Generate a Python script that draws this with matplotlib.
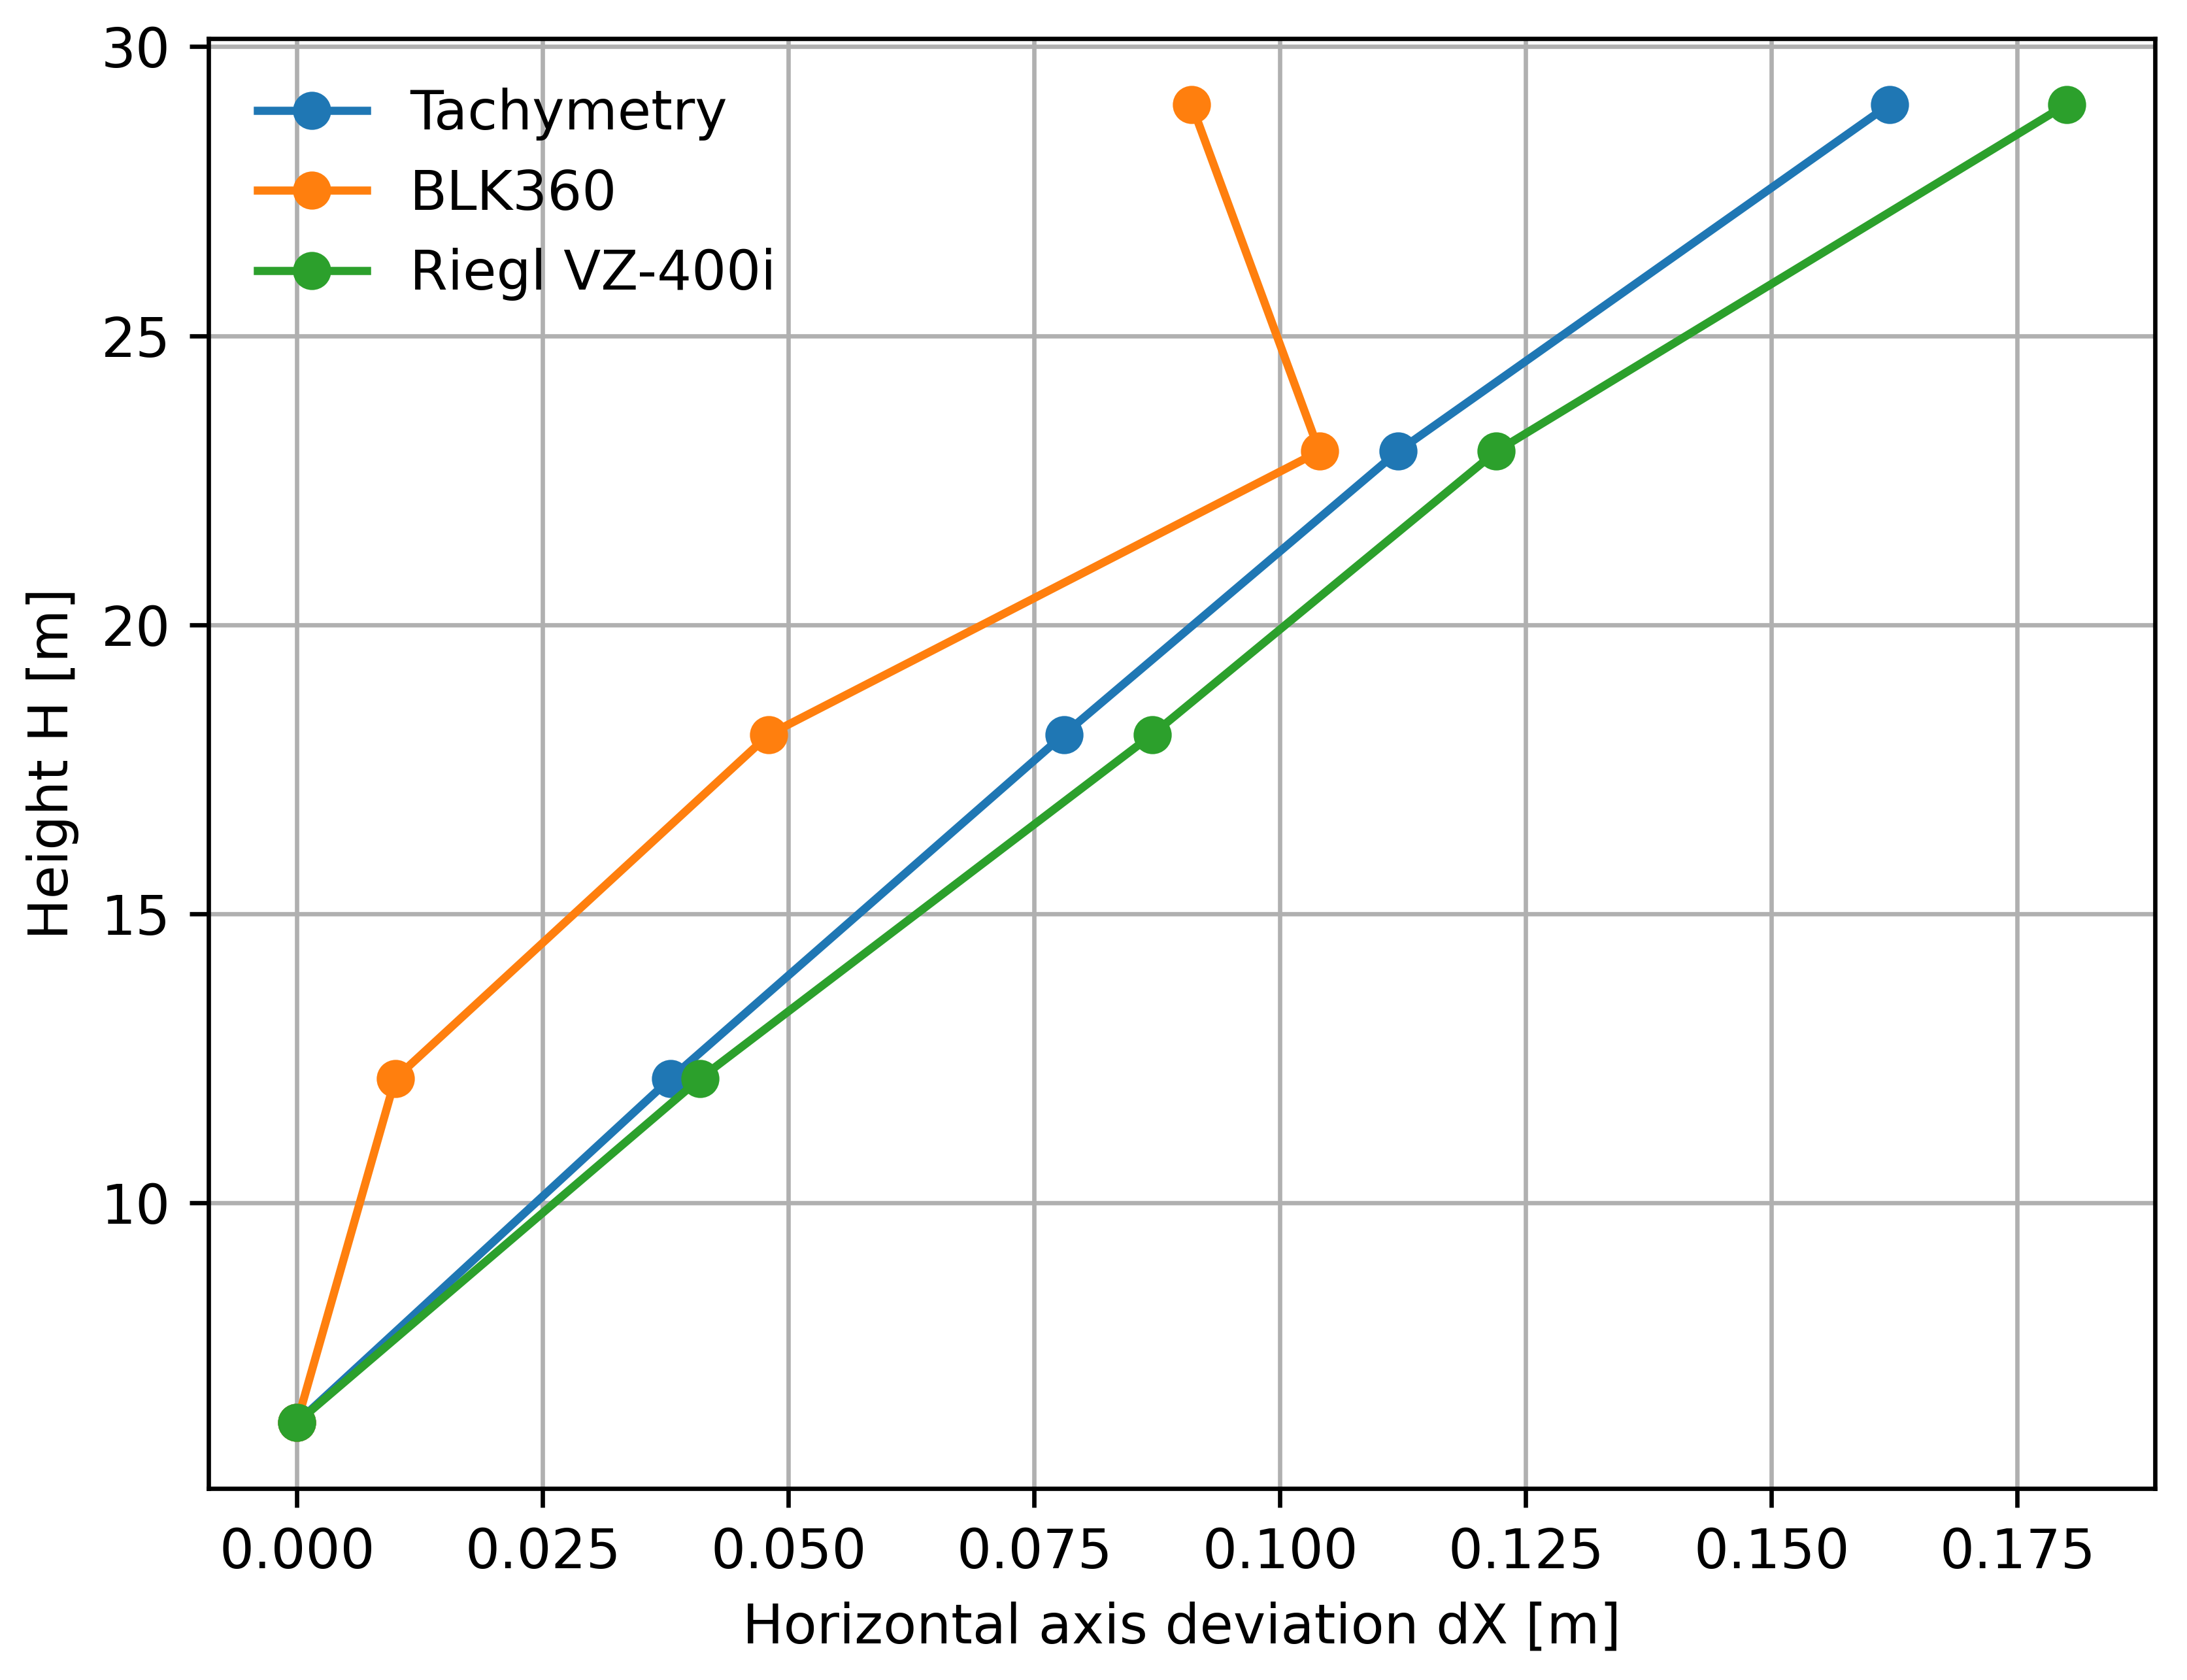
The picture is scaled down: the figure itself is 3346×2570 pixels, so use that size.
import numpy as np
import matplotlib.pyplot as plt

# heights of the measured levels [m]
heights = [6.2, 12.15, 18.1, 23.0, 29.0]

# horizontal deviation dX [m] per method
tachymetry = [0.0, 0.038, 0.078, 0.112, 0.162]
blk360 = [0.0, 0.010, 0.048, 0.104, 0.091]
riegl = [0.0, 0.041, 0.087, 0.122, 0.180]

series_names = ["Tachymetry", "BLK360", "Riegl VZ-400i"]

W, H, DPI = 3346, 2570, 600
fig = plt.figure(figsize=(W / DPI, H / DPI), dpi=DPI)

# axes box placed as in the reference (pixels -> figure fraction)
left, right, top, bottom = 319, 3297, 59, 2277
ax = fig.add_axes([left / W, 1 - bottom / H, (right - left) / W, (bottom - top) / H])

for name, dx in zip(series_names, [tachymetry, blk360, riegl]):
    ax.plot(dx, heights, marker='o', label=name)

ax.set_xlabel("Horizontal axis deviation dX [m]")
ax.set_ylabel("Height H [m]")
ax.grid(True)
# no legend box in the reference, grid shows through
ax.legend(loc='upper left', frameon=False)

fig.savefig("out.png", dpi=DPI)
